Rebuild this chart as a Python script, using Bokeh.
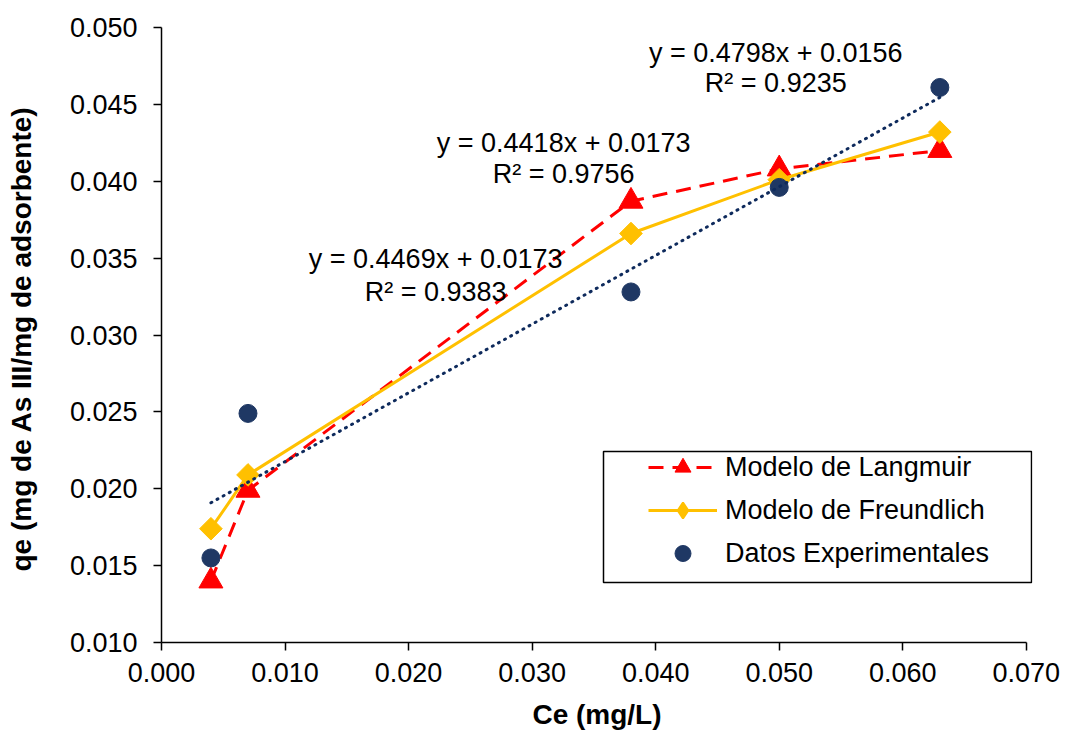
import math
from bokeh.plotting import figure
from bokeh.models import (FixedTicker, PrintfTickFormatter, Range1d, Legend, LegendItem,
                          Label, BoxAnnotation)
from bokeh.embed import file_html
from bokeh.resources import INLINE

# ---- data ----
ce = [0.004, 0.007, 0.038, 0.050, 0.063]
qe_langmuir = [0.0140, 0.0199, 0.0387, 0.0408, 0.0420]
qe_freundlich = [0.0174, 0.0209, 0.0366, 0.0401, 0.0432]
qe_experimental = [0.0155, 0.0249, 0.0328, 0.0396, 0.0461]
trend_slope_intercept = [0.4469, 0.0173]
x_ticks = [0.000, 0.010, 0.020, 0.030, 0.040, 0.050, 0.060, 0.070]
y_ticks = [0.010, 0.015, 0.020, 0.025, 0.030, 0.035, 0.040, 0.045, 0.050]
equation_texts = [
    ("y = 0.4798x + 0.0156", "R² = 0.9235"),
    ("y = 0.4418x + 0.0173", "R² = 0.9756"),
    ("y = 0.4469x + 0.0173", "R² = 0.9383"),
]
series_names = ["Modelo de Langmuir", "Modelo de Freundlich", "Datos Experimentales"]

# ---- styles / placement ----
FONT = "Liberation Sans"
RED = "#FF0000"
YELLOW = "#FFC000"
NAVY = "#1F3864"
TREND = "#0E2A5C"
eq_positions = [(0.04972, 0.04837, 0.04641),
                (0.03255, 0.04251, 0.04049),
                (0.02219, 0.03495, 0.03281)]

p = figure(frame_width=871, frame_height=615,
           min_border_left=161, min_border_right=33,
           min_border_top=27, min_border_bottom=96,
           x_range=Range1d(0.0, 0.0705), y_range=Range1d(0.010, 0.050),
           output_backend="svg", toolbar_location=None)
p.outline_line_color = None
p.xgrid.visible = False
p.ygrid.visible = False
p.background_fill_color = "white"
p.border_fill_color = "white"

for ax in (p.xaxis[0], p.yaxis[0]):
    ax.axis_line_color = "black"
    ax.axis_line_width = 1.5
    ax.major_tick_line_color = "black"
    ax.major_tick_line_width = 1.5
    ax.major_tick_out = 8
    ax.major_tick_in = 0
    ax.minor_tick_line_color = None
    ax.major_label_text_font = FONT
    ax.major_label_text_font_size = "27px"
    ax.major_label_text_color = "black"
    ax.axis_label_text_font = FONT
    ax.axis_label_text_font_size = "28px"
    ax.axis_label_text_font_style = "bold"
    ax.axis_label_text_color = "black"
    ax.formatter = PrintfTickFormatter(format="%.3f")

p.xaxis[0].ticker = FixedTicker(ticks=x_ticks)
p.yaxis[0].ticker = FixedTicker(ticks=y_ticks)
p.xaxis[0].bounds = (x_ticks[0], x_ticks[-1])
p.xaxis[0].axis_label = "Ce (mg/L)"
p.yaxis[0].axis_label = "qe  (mg de As III/mg de adsorbente)"
p.xaxis[0].major_label_standoff = 12
p.xaxis[0].axis_label_standoff = 14
p.yaxis[0].major_label_standoff = 16
p.yaxis[0].axis_label_standoff = 30

# ---- series ----
l_line = p.line(ce, qe_langmuir, line_color=RED, line_width=3, line_dash="15 9")
l_mark = p.scatter(ce, qe_langmuir, marker="triangle", size=24,
                   fill_color=RED, line_color=RED)
f_line = p.line(ce, qe_freundlich, line_color=YELLOW, line_width=3)
f_mark = p.scatter(ce, qe_freundlich, marker="square", size=16, angle=math.pi / 4,
                   fill_color=YELLOW, line_color=YELLOW)
# legend-only diamond swatch (a single NaN point, so nothing shows in the plot)
f_key = p.scatter(x=[float("nan")], y=[float("nan")], marker="diamond", size=16,
                  fill_color=YELLOW, line_color=YELLOW, line_width=2)
e_mark = p.scatter(ce, qe_experimental, marker="circle", size=18,
                   fill_color=NAVY, line_color=NAVY)

tx = [ce[0], ce[-1]]
ty = [trend_slope_intercept[0] * v + trend_slope_intercept[1] for v in tx]
p.line(tx, ty, line_color=TREND, line_width=3, line_dash="1 6", line_cap="round")

# ---- equation labels ----
for (l1, l2), (xc, y1, y2) in zip(equation_texts, eq_positions):
    for txt, yy in ((l1, y1), (l2, y2)):
        p.add_layout(Label(x=xc, y=yy, text=txt, text_align="center",
                           text_baseline="middle", text_font=FONT,
                           text_font_size="27px", text_color="black"))

# ---- legend ----
legend = Legend(items=[
    LegendItem(label=series_names[0], renderers=[l_line, l_mark]),
    LegendItem(label=series_names[1], renderers=[f_line, f_key]),
    LegendItem(label=series_names[2], renderers=[e_mark]),
], location=(487, 69), padding=0, spacing=3, glyph_width=69, glyph_height=40,
    label_height=40, label_standoff=8, label_text_font=FONT,
    label_text_font_size="27px", label_text_color="black",
    border_line_color=None, background_fill_alpha=0.0, margin=0)
p.add_layout(legend)

box = BoxAnnotation(left=442, right=870, bottom=60, top=191,
                    left_units="screen", right_units="screen",
                    bottom_units="screen", top_units="screen",
                    fill_alpha=0.0, line_color="black", line_alpha=1.0,
                    line_width=1.5)
p.add_layout(box)

open("out.html", "w").write(file_html(p, INLINE))
